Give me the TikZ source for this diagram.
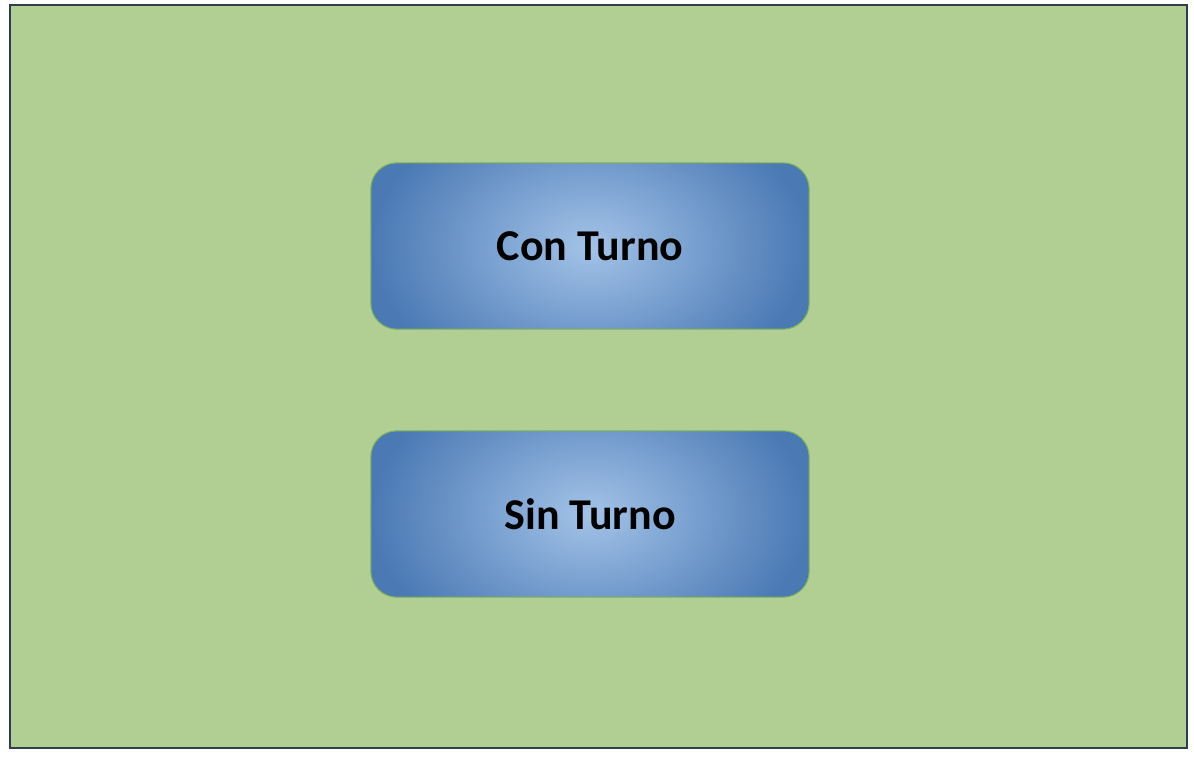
\documentclass[tikz,border=0pt]{standalone}
\usepackage{fontspec}
\setmainfont{Carlito}
\definecolor{bgfill}{HTML}{B2CF93}
\definecolor{bgline}{HTML}{2F3D4E}
\definecolor{boxin}{HTML}{A3C3E8}
\definecolor{boxout}{HTML}{4A79B4}
\definecolor{boxline}{HTML}{7DB05A}
\tikzset{
  panel/.style={fill=bgfill, draw=bgline, line width=1.5pt},
  boxnode/.style={minimum width=438pt, minimum height=166pt, rounded corners=26pt,
    inner sep=0pt, font=\fontsize{44}{50}\selectfont\bfseries, text=black},
  boxedge/.style={draw=boxline, line width=1pt, rounded corners=26pt}
}
\begin{document}
\begin{tikzpicture}[x=1pt,y=1pt]
\useasboundingbox (0,0) rectangle (1194,-756);
\node[panel, minimum width=1177pt, minimum height=743pt, inner sep=0pt] (panel) at (598.5,-376.5) {};
\foreach \nm/\cy in {con/-246, sin/-514}{
  \begin{scope}
    \clip[rounded corners=26pt] (371,\cy-83) rectangle (809,\cy+83);
    \shade[inner color=boxin, outer color=boxout] (371,\cy-150) rectangle (809,\cy+150);
  \end{scope}
}
\node[boxnode] (con) at (590,-246) {Con Turno};
\node[boxnode] (sin) at (590,-514) {Sin Turno};
\draw[boxedge] (con.south west) rectangle (con.north east);
\draw[boxedge] (sin.south west) rectangle (sin.north east);
\end{tikzpicture}
\end{document}
